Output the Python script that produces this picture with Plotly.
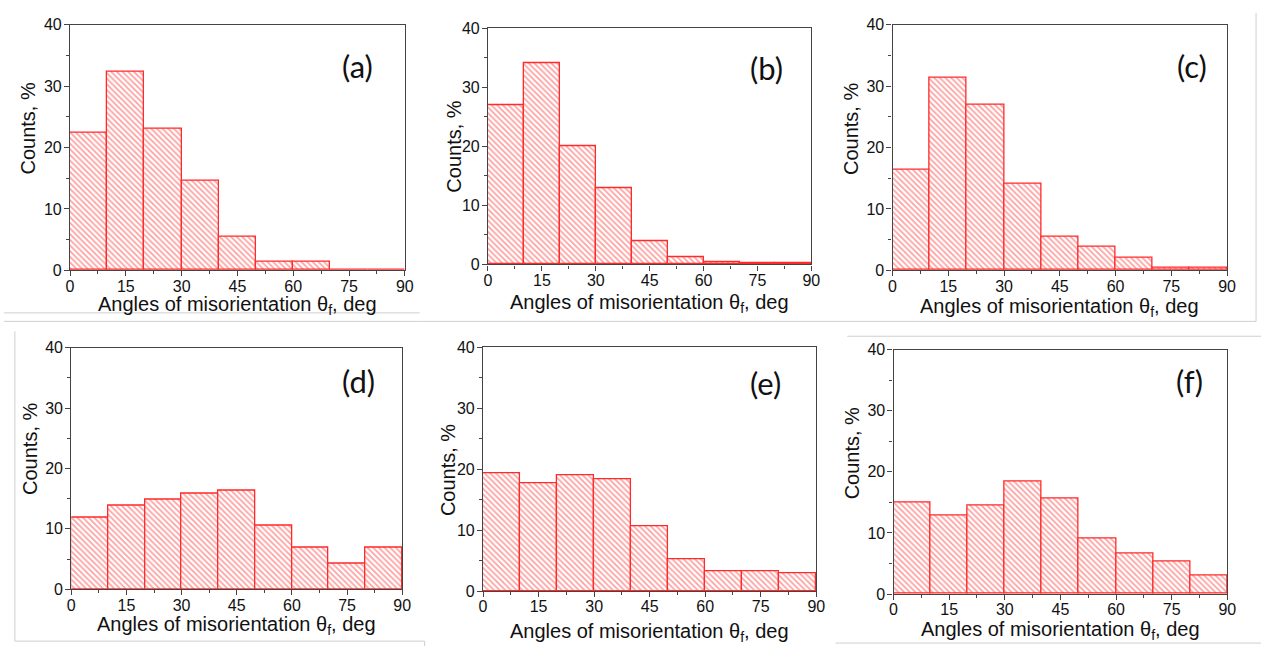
import plotly.graph_objects as go

W, H = 1270, 655

bin_edges = [0, 10, 20, 30, 40, 50, 60, 70, 80]
bin_width = 10
panel_labels = ["(a)", "(b)", "(c)", "(d)", "(e)", "(f)"]

counts_a = [22.4, 32.4, 23.0, 14.6, 5.4, 1.3, 1.3, 0.0, 0.0]
counts_b = [26.9, 34.1, 20.1, 12.9, 4.0, 1.3, 0.45, 0.15, 0.15]
counts_c = [16.4, 31.4, 27.0, 14.1, 5.5, 3.8, 2.0, 0.37, 0.37]
counts_d = [11.9, 13.8, 14.9, 15.9, 16.4, 10.5, 6.9, 4.2, 6.9]
counts_e = [19.3, 17.7, 19.0, 18.4, 10.7, 5.2, 3.3, 3.2, 2.9]
counts_f = [15.0, 12.9, 14.5, 18.4, 15.7, 9.1, 6.6, 5.3, 3.0]

x_ticks = [0, 15, 30, 45, 60, 75, 90]
y_ticks = [0, 10, 20, 30, 40]
x_title = "Angles of misorientation θ<sub>f</sub>, deg"
y_title = "Counts, %"

series = [counts_a, counts_b, counts_c, counts_d, counts_e, counts_f]

# plot boxes in pixels: left, right, top, bottom
boxes = [
    (66.7, 405.0, 17.3, 269.3),
    (489.0, 815.7, 20.7, 263.3),
    (897.7, 1235.7, 17.3, 269.3),
    (68.0, 402.3, 348.7, 596.7),
    (484.0, 820.7, 348.3, 598.7),
    (898.7, 1236.0, 350.7, 601.7),
]
# label (x, y) centers, x-title top y, y-title center (x, y)
label_pos = [(357, 60), (770, 62), (1200, 60), (358, 383), (769, 385), (1198, 383)]
xtitle_top = [291, 289, 293, 619, 626, 624]
ytitle_pos = [(24, 124), (455, 142), (856, 124), (27, 453), (448, 474), (857, 457)]

FONT = "Arial, 'Liberation Sans', sans-serif"
LABEL_FONT = "Lato, 'Open Sans', sans-serif"
AXIS_COLOR = "#444444"

fig = go.Figure()
layout = dict(
    width=W, height=H,
    margin=dict(l=0, r=0, t=0, b=0),
    paper_bgcolor="white", plot_bgcolor="white",
    showlegend=False, bargap=0,
    font=dict(family=FONT, size=16, color="#111"),
)
annotations = []
shapes = []

centers = [e + bin_width / 2 for e in bin_edges]

for i, (vals, box) in enumerate(zip(series, boxes)):
    n = "" if i == 0 else str(i + 1)
    L, R, T, B = box
    fig.add_trace(go.Bar(
        x=centers, y=vals, width=[bin_width] * len(vals),
        xaxis="x" + n, yaxis="y" + n,
        marker=dict(
            color="white",
            line=dict(color="#ff2a2a", width=1.3),
            pattern=dict(shape="\\", fgcolor="#ff3a3a", bgcolor="white",
                         size=4, solidity=0.4),
        ),
        hoverinfo="x+y",
    ))
    layout["xaxis" + n] = dict(
        domain=[L / W, R / W], anchor="y" + n,
        range=[0, 90], tickvals=x_ticks, ticktext=[str(t) for t in x_ticks],
        ticks="outside", ticklen=5, tickcolor=AXIS_COLOR, tickwidth=1,
        ticklabelstandoff=-4,
        minor=dict(dtick=7.5, tick0=0, ticks="outside", ticklen=3, tickcolor=AXIS_COLOR),
        showline=True, linecolor=AXIS_COLOR, linewidth=1.2, mirror=True,
        showgrid=False, zeroline=False,
        tickfont=dict(family=FONT, size=16, color="#111"),
    )
    layout["yaxis" + n] = dict(
        domain=[1 - B / H, 1 - T / H], anchor="x" + n,
        range=[0, 40], tickvals=y_ticks,
        ticks="outside", ticklen=5, tickcolor=AXIS_COLOR, tickwidth=1,
        ticklabelstandoff=-1,
        minor=dict(dtick=5, tick0=0, ticks="outside", ticklen=3, tickcolor=AXIS_COLOR),
        showline=True, linecolor=AXIS_COLOR, linewidth=1.2, mirror=True,
        showgrid=False, zeroline=False,
        tickfont=dict(family=FONT, size=16, color="#111"),
    )
    lx, ly = label_pos[i]
    annotations.append(dict(
        text=panel_labels[i], x=lx / W, y=1 - ly / H, xref="paper", yref="paper",
        showarrow=False, xanchor="center", yanchor="middle",
        font=dict(family=LABEL_FONT, size=31, color="#111"),
    ))
    annotations.append(dict(
        text=x_title, x=(L + R) / 2 / W, y=1 - xtitle_top[i] / H,
        xref="paper", yref="paper", showarrow=False,
        xanchor="center", yanchor="top",
        font=dict(family=FONT, size=20, color="#111"),
    ))
    tx, ty = ytitle_pos[i]
    annotations.append(dict(
        text=y_title, x=tx / W, y=1 - ty / H, xref="paper", yref="paper",
        showarrow=False, textangle=-90, xanchor="center", yanchor="middle",
        font=dict(family=FONT, size=20, color="#111"),
    ))

# faint separator lines of the composite figure
sep = dict(type="line", xref="paper", yref="paper", line=dict(color="#cfcfcf", width=1))
for (x0, y0, x1, y1) in [
    (0, 313, 420, 313), (420, 321.7, 1265, 321.7), (0, 321.7, 420, 321.7),
    (1265, 5, 1265, 321.7), (852, 337, 1270, 337),
    (11, 332, 11, 650), (11, 650, 425, 650), (425, 650, 425, 655),
    (840, 652, 1270, 652),
]:
    s = dict(sep)
    s.update(x0=x0 / W, x1=x1 / W, y0=1 - y0 / H, y1=1 - y1 / H)
    shapes.append(s)

layout["annotations"] = annotations
layout["shapes"] = shapes
fig.update_layout(**layout)
fig.write_html("out.html")
